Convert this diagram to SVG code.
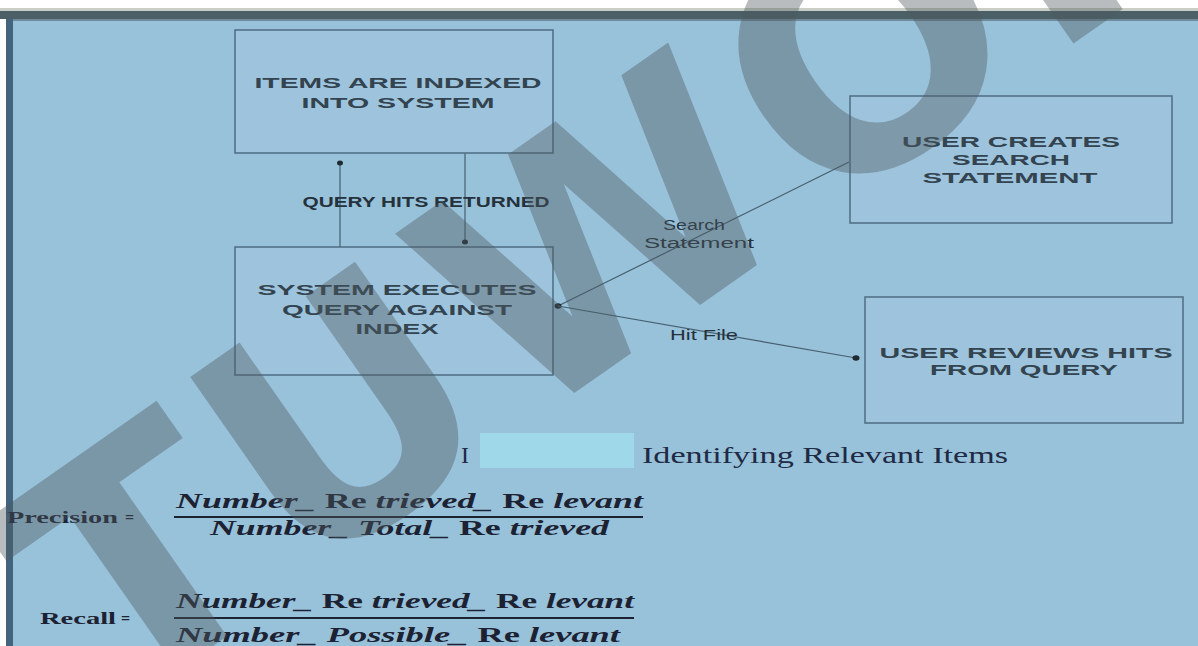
<svg xmlns="http://www.w3.org/2000/svg" width="1198" height="646" viewBox="0 0 1198 646">
<defs>
<style>
.box{fill:#9dc4dc;stroke:#4d6c82;stroke-width:1.5}
.bt{font-family:"Liberation Sans",Arial,sans-serif;font-weight:bold;font-size:15px;fill:#33434f;text-anchor:middle}
.lbl{font-family:"Liberation Sans",Arial,sans-serif;font-size:14px;fill:#25323c}
.con{stroke:#46606f;stroke-width:1.2;fill:none}
.dot{fill:#1f2b33}
.f{font-family:"Liberation Serif","Times New Roman",serif;font-size:20px;fill:#1c2232;font-style:italic;font-weight:bold}
.up{font-style:normal}
.lb{font-family:"Liberation Serif","Times New Roman",serif;font-size:16px;fill:#1c2232;font-weight:bold}
.fl{stroke:#1c2232;stroke-width:2}
.wm{font-family:"DejaVu Sans",sans-serif;font-weight:bold;font-size:320px;letter-spacing:10px;fill:#4f5a60;opacity:0.4}
</style>
</defs>
<rect x="0" y="0" width="1198" height="646" fill="#ffffff"/>
<rect x="0" y="8" width="1198" height="3" fill="#c9cfc4"/>
<rect x="0" y="11" width="1198" height="8" fill="#4b5f66"/>
<rect x="6" y="19" width="1192" height="627" fill="#98c1da"/>
<rect x="6" y="19" width="1192" height="2" fill="#6f8a98"/>
<rect x="6" y="19" width="7" height="627" fill="#42657d"/>

<g id="connectors">
<line class="con" x1="340" y1="247" x2="340" y2="163"/>
<ellipse class="dot" cx="340" cy="163" rx="3" ry="2.5"/>
<line class="con" x1="465" y1="153" x2="465" y2="242"/>
<ellipse class="dot" cx="465" cy="242" rx="3" ry="2.5"/>
<text class="lbl" x="426" y="207" font-size="12" font-weight="bold" text-anchor="middle" textLength="247" lengthAdjust="spacingAndGlyphs">QUERY HITS RETURNED</text>
<line class="con" x1="849" y1="162" x2="558" y2="306"/>
<ellipse class="dot" cx="558" cy="306" rx="3.5" ry="2.8"/>
<text class="lbl" x="663" y="230" textLength="62" lengthAdjust="spacingAndGlyphs">Search</text>
<text class="lbl" x="644" y="248" textLength="110" lengthAdjust="spacingAndGlyphs">Statement</text>
<line class="con" x1="558" y1="306" x2="856" y2="358"/>
<ellipse class="dot" cx="856" cy="358" rx="3.5" ry="2.8"/>
<text class="lbl" x="670" y="340" textLength="68" lengthAdjust="spacingAndGlyphs">Hit File</text>
</g>

<g id="node-items-indexed">
<rect class="box" x="235" y="30" width="318" height="123"/>
<text class="bt" x="398" y="88" textLength="287" lengthAdjust="spacingAndGlyphs">ITEMS ARE INDEXED</text>
<text class="bt" x="398" y="108" textLength="193" lengthAdjust="spacingAndGlyphs">INTO SYSTEM</text>
</g>

<g id="node-system-executes">
<rect class="box" x="235" y="247" width="318" height="128"/>
<text class="bt" x="397" y="295" textLength="279" lengthAdjust="spacingAndGlyphs">SYSTEM EXECUTES</text>
<text class="bt" x="397" y="315" textLength="230" lengthAdjust="spacingAndGlyphs">QUERY AGAINST</text>
<text class="bt" x="397" y="334" textLength="83" lengthAdjust="spacingAndGlyphs">INDEX</text>
</g>

<g id="node-user-creates">
<rect class="box" x="850" y="96" width="322" height="127"/>
<text class="bt" x="1011" y="147" textLength="218" lengthAdjust="spacingAndGlyphs">USER CREATES</text>
<text class="bt" x="1011" y="165" textLength="118" lengthAdjust="spacingAndGlyphs">SEARCH</text>
<text class="bt" x="1010" y="183" textLength="175" lengthAdjust="spacingAndGlyphs">STATEMENT</text>
</g>

<g id="node-user-reviews">
<rect class="box" x="865" y="297" width="318" height="126"/>
<text class="bt" x="1026" y="358" textLength="293" lengthAdjust="spacingAndGlyphs">USER REVIEWS HITS</text>
<text class="bt" x="1024" y="375" textLength="188" lengthAdjust="spacingAndGlyphs">FROM QUERY</text>
</g>

<g id="caption">
<rect x="480" y="433" width="154" height="35" fill="#9ed8e9"/>
<text x="461" y="463" font-family="Liberation Serif,serif" font-size="24" fill="#1f2a44">I</text>
<text x="642" y="463" font-family="Liberation Serif,serif" font-size="24" fill="#1f2a44" textLength="366" lengthAdjust="spacingAndGlyphs">Identifying Relevant Items</text>
</g>

<g id="precision">
<text class="lb" x="7" y="523" textLength="111" lengthAdjust="spacingAndGlyphs">Precision</text>
<text class="lb" x="125" y="523">=</text>
<text class="f" x="176" y="508" textLength="467" lengthAdjust="spacingAndGlyphs">Number_ <tspan class="up">Re</tspan> trieved_ <tspan class="up">Re</tspan> levant</text>
<line class="fl" x1="174" y1="517" x2="643" y2="517"/>
<text class="f" x="210" y="535" textLength="399" lengthAdjust="spacingAndGlyphs">Number_ Total_ <tspan class="up">Re</tspan> trieved</text>
</g>

<g id="recall">
<text class="lb" x="40" y="624" textLength="76" lengthAdjust="spacingAndGlyphs">Recall</text>
<text class="lb" x="121" y="624">=</text>
<text class="f" x="176" y="608" textLength="458" lengthAdjust="spacingAndGlyphs">Number_ <tspan class="up">Re</tspan> trieved_ <tspan class="up">Re</tspan> levant</text>
<line class="fl" x1="174" y1="618" x2="634" y2="618"/>
<text class="f" x="176" y="642" textLength="444" lengthAdjust="spacingAndGlyphs">Number_ Possible_ <tspan class="up">Re</tspan> levant</text>
</g>

<g id="watermark">
<text class="wm" transform="translate(113,716) rotate(-35)">TUWORLD</text>
</g>
</svg>
